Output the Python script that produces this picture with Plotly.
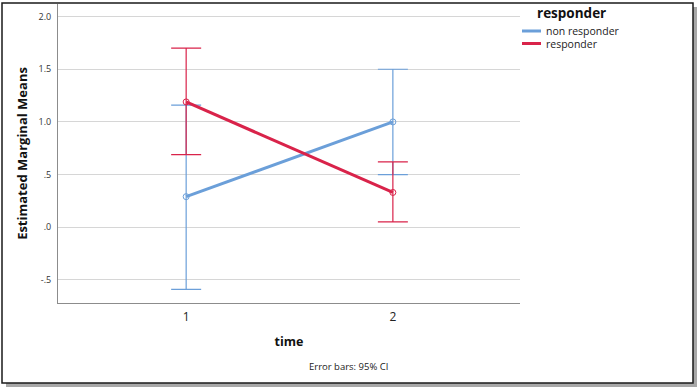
import plotly.graph_objects as go

times = [1, 2]
tick_labels = ["1", "2"]
groups = ["non responder", "responder"]
means = {
    "non responder": [0.29, 1.00],
    "responder": [1.19, 0.33],
}
ci_upper = {
    "non responder": [1.16, 1.50],
    "responder": [1.70, 0.62],
}
ci_lower = {
    "non responder": [-0.59, 0.50],
    "responder": [0.69, 0.05],
}
y_ticks = [-0.5, 0.0, 0.5, 1.0, 1.5, 2.0]
y_tick_text = ["-.5", ".0", ".5", "1.0", "1.5", "2.0"]
colors = {"non responder": "#6b9fd9", "responder": "#d9234a"}

W, H = 699, 389
L, R, T, B = 58, 520, 4, 303

fig = go.Figure()
for g in groups:
    up = [u - m for u, m in zip(ci_upper[g], means[g])]
    dn = [m - l for m, l in zip(means[g], ci_lower[g])]
    fig.add_trace(go.Scatter(
        x=times, y=means[g], mode="lines+markers", name=g,
        line=dict(color=colors[g], width=3),
        marker=dict(symbol="circle-open", size=6, color=colors[g], line=dict(width=1)),
        error_y=dict(type="data", symmetric=False, array=up, arrayminus=dn,
                     color=colors[g], thickness=1.2, width=15),
        showlegend=False,
    ))

def px(x):
    return (x - L) / (R - L)

def py(y):
    return (B - y) / (B - T)

shapes = [
    dict(type="rect", xref="paper", yref="paper", x0=px(6), x1=px(697), y0=py(387), y1=py(7),
         fillcolor="#a8a8a8", line=dict(width=0), layer="below"),
    dict(type="rect", xref="paper", yref="paper", x0=px(2), x1=px(693), y0=py(383), y1=py(3),
         fillcolor="white", line=dict(color="#1a1a1a", width=1.5), layer="below"),
]
annotations = [
    dict(text="<b>responder</b>", xref="paper", yref="paper", x=px(535), y=py(13),
         xanchor="left", yanchor="middle", showarrow=False,
         font=dict(size=13.5, color="#111", family="Open Sans")),
    dict(text="Error bars: 95% CI", xref="paper", yref="paper", x=px(348), y=py(366),
         xanchor="center", yanchor="middle", showarrow=False,
         font=dict(size=9.5, color="#222", family="Open Sans")),
]
for i, g in enumerate(groups):
    yy = 31 + i * 12.5
    shapes.append(dict(type="line", xref="paper", yref="paper", x0=px(522), x1=px(541),
                       y0=py(yy), y1=py(yy), line=dict(color=colors[g], width=3)))
    annotations.append(dict(text=g, xref="paper", yref="paper", x=px(544), y=py(yy),
                            xanchor="left", yanchor="middle", showarrow=False,
                            font=dict(size=10.5, color="#222", family="Open Sans")))

fig.update_layout(
    width=W, height=H,
    margin=dict(l=L, r=W - R, t=T, b=H - B, pad=0),
    paper_bgcolor="white", plot_bgcolor="rgba(0,0,0,0)",
    font=dict(family="Open Sans", color="#222"),
    shapes=shapes, annotations=annotations,
    xaxis=dict(range=[0.38, 2.615], tickvals=times, ticktext=tick_labels,
               showgrid=False, zeroline=False, showline=True, linecolor="#8c8c8c", linewidth=1,
               ticks="", tickfont=dict(size=12, color="#222"), ticklabelstandoff=3,
               title=dict(text="<b>time</b>", font=dict(size=12.5, color="#111"), standoff=12)),
    yaxis=dict(range=[-0.72, 2.12], tickvals=y_ticks, ticktext=y_tick_text,
               showgrid=True, gridcolor="#d6d6d6", gridwidth=1, zeroline=False,
               showline=True, linecolor="#8c8c8c", linewidth=1, ticks="",
               tickfont=dict(size=9, color="#333"), ticklabelstandoff=4,
               title=dict(text="<b>Estimated Marginal Means</b>", font=dict(size=13, color="#111"), standoff=7)),
    showlegend=False,
)

fig.write_html("out.html", config={"displayModeBar": False},
               post_script="document.body.style.margin='0px';document.body.style.overflow='hidden';")
